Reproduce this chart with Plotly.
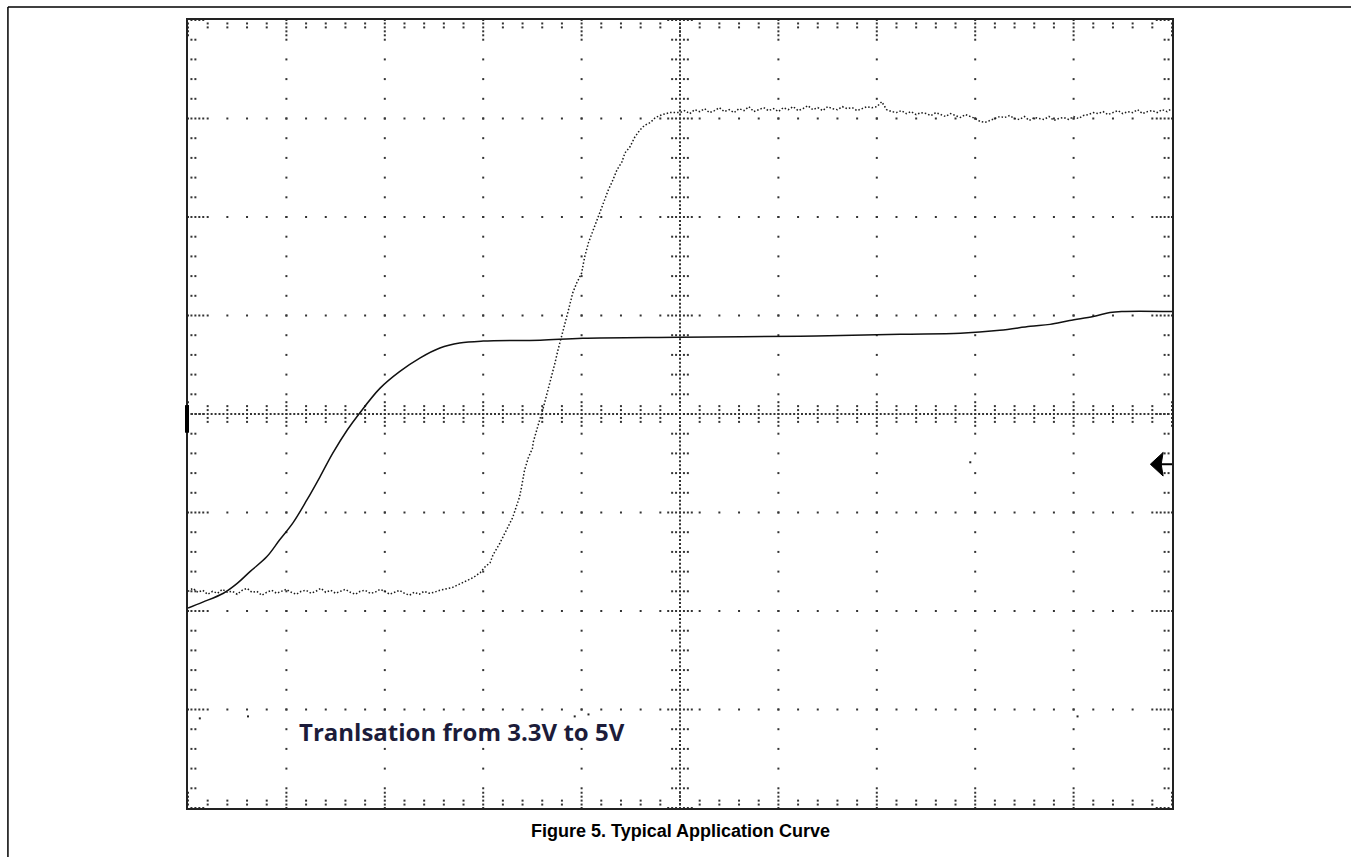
import plotly.graph_objects as go

# ---------------- data (units: screen divisions, x: -5..5, y: -4..4) ----------------
ch1_x = [-5.00, -4.85, -4.64, -4.50, -4.37, -4.20, -4.07, -3.93, -3.79, -3.66, -3.53,
         -3.38, -3.27, -3.05, -2.85, -2.64, -2.44, -2.24, -2.00, -1.42, -0.99, 0.00,
         1.22, 2.24, 2.85, 3.25, 3.56, 3.76, 3.96, 4.20, 4.37, 4.49, 5.00]
ch1_y = [-1.97, -1.91, -1.82, -1.72, -1.60, -1.45, -1.28, -1.10, -0.87, -0.64, -0.40,
         -0.16, -0.01, 0.26, 0.43, 0.57, 0.67, 0.72, 0.74, 0.75, 0.77, 0.78,
         0.79, 0.81, 0.82, 0.85, 0.89, 0.91, 0.95, 0.99, 1.03, 1.04, 1.04]

ch2_low_x = [-5.00, -4.95, -4.90, -4.85, -4.80, -4.75, -4.70, -4.65, -4.60, -4.55,
             -4.50, -4.45, -4.40, -4.35, -4.30, -4.25, -4.20, -4.15, -4.10, -4.05,
             -4.00, -3.95, -3.90, -3.85, -3.80, -3.75, -3.70, -3.65, -3.60, -3.55,
             -3.50, -3.45, -3.40, -3.35, -3.30, -3.25, -3.20, -3.15, -3.10, -3.05,
             -3.00, -2.95, -2.90, -2.85, -2.80, -2.75, -2.70, -2.65, -2.60, -2.55,
             -2.50]
ch2_low_y = [-1.80, -1.77, -1.81, -1.79, -1.83, -1.80, -1.82, -1.78, -1.81, -1.80,
             -1.83, -1.79, -1.77, -1.81, -1.80, -1.84, -1.81, -1.79, -1.82, -1.80,
             -1.78, -1.81, -1.83, -1.80, -1.79, -1.82, -1.80, -1.77, -1.81, -1.79,
             -1.82, -1.80, -1.78, -1.81, -1.83, -1.80, -1.79, -1.82, -1.81, -1.78,
             -1.80, -1.83, -1.81, -1.79, -1.82, -1.84, -1.81, -1.83, -1.80, -1.82,
             -1.81]

ch2_edge_x = [-2.44, -2.31, -2.21, -2.10, -2.03, -1.98, -1.93, -1.90, -1.83, -1.78,
              -1.75, -1.70, -1.68, -1.63, -1.61, -1.58, -1.54, -1.50, -1.49, -1.45,
              -1.42, -1.39, -1.32, -1.27, -1.24, -1.17, -1.14, -1.09, -1.05, -1.00,
              -0.97, -0.93, -0.88, -0.84, -0.81, -0.76, -0.73, -0.68, -0.64, -0.59,
              -0.56, -0.51, -0.46, -0.41, -0.36, -0.30, -0.25, -0.18, -0.10, 0.00]
ch2_edge_y = [-1.79, -1.76, -1.71, -1.66, -1.61, -1.55, -1.51, -1.43, -1.31, -1.21,
              -1.15, -1.05, -0.99, -0.84, -0.74, -0.57, -0.44, -0.35, -0.28, -0.13,
              -0.04, 0.06, 0.32, 0.52, 0.65, 0.90, 1.03, 1.23, 1.33, 1.43,
              1.59, 1.74, 1.87, 1.99, 2.07, 2.19, 2.27, 2.38, 2.48, 2.56,
              2.65, 2.71, 2.81, 2.88, 2.93, 2.96, 3.01, 3.04, 3.06, 3.06]

ch2_high_x = [0.05, 0.10, 0.15, 0.20, 0.25, 0.30, 0.35, 0.40, 0.45, 0.50,
              0.55, 0.60, 0.65, 0.70, 0.75, 0.80, 0.85, 0.90, 0.95, 1.00,
              1.05, 1.10, 1.15, 1.20, 1.25, 1.30, 1.35, 1.40, 1.45, 1.50,
              1.55, 1.60, 1.65, 1.70, 1.75, 1.80, 1.85, 1.90, 1.95, 2.00,
              2.05, 2.10, 2.15, 2.20, 2.25, 2.30, 2.35, 2.40, 2.45, 2.50,
              2.55, 2.60, 2.65, 2.70, 2.75, 2.80, 2.85, 2.90, 2.95, 3.00,
              3.05, 3.10, 3.15, 3.20, 3.25, 3.30, 3.35, 3.40, 3.45, 3.50,
              3.55, 3.60, 3.65, 3.70, 3.75, 3.80, 3.85, 3.90, 3.95, 4.00,
              4.05, 4.10, 4.15, 4.20, 4.25, 4.30, 4.35, 4.40, 4.45, 4.50,
              4.55, 4.60, 4.65, 4.70, 4.75, 4.80, 4.85, 4.90, 4.95, 5.00]
ch2_high_y = [3.08, 3.05, 3.09, 3.07, 3.10, 3.06, 3.08, 3.11, 3.07, 3.09,
              3.06, 3.10, 3.08, 3.12, 3.07, 3.09, 3.11, 3.08, 3.10, 3.07,
              3.11, 3.09, 3.12, 3.08, 3.10, 3.13, 3.09, 3.11, 3.08, 3.12,
              3.10, 3.09, 3.12, 3.10, 3.11, 3.08, 3.10, 3.12, 3.11, 3.12,
              3.17, 3.09, 3.07, 3.06, 3.08, 3.05, 3.07, 3.04, 3.06, 3.05,
              3.03, 3.06, 3.04, 3.02, 3.05, 3.03, 3.01, 3.04, 3.02, 3.00,
              2.97, 2.96, 2.98, 3.00, 3.02, 3.01, 3.03, 3.00, 2.99, 3.02,
              2.98, 3.01, 3.00, 2.99, 3.02, 2.98, 3.00, 3.01, 2.99, 3.02,
              3.00, 3.03, 3.04, 3.06, 3.05, 3.07, 3.04, 3.06, 3.08, 3.05,
              3.07, 3.06, 3.09, 3.05, 3.07, 3.08, 3.06, 3.09, 3.07, 3.10]

stray_x = [2.95, 4.04, -4.88, -4.39, -1.07, -0.93]
stray_y = [-0.49, -3.07, -3.09, -3.07, -3.07, -3.05]

trigger_level = -0.51          # right-edge arrow marker
ground_marker = [0.09, -0.19]  # left-edge channel bar
note_text = "Tranlsation from 3.3V to 5V"
caption_text = "Figure 5. Typical Application Curve"

# ---------------- graticule (screen decoration) ----------------
def r(v):
    return round(v, 4)

gx, gy = [], []
for i in range(-4, 5):
    if i == 0:
        continue
    for k in range(41):
        gx.append(i); gy.append(r(-4 + 0.2 * k))
for j in range(-3, 4):
    if j == 0:
        continue
    for k in range(51):
        gx.append(r(-5 + 0.2 * k)); gy.append(j)
for k in range(201):
    gx.append(0); gy.append(r(-4 + 0.04 * k))
for k in range(251):
    gx.append(r(-5 + 0.04 * k)); gy.append(0)
for k in range(41):
    yv = r(-4 + 0.2 * k)
    offs = [0.04, 0.08, 0.12] if abs(yv - round(yv)) < 1e-6 else [0.04, 0.08]
    for o in offs:
        gx += [o, -o]; gy += [yv, yv]
for k in range(51):
    xv = r(-5 + 0.2 * k)
    offs = [0.04, 0.08, 0.12] if abs(xv - round(xv)) < 1e-6 else [0.04, 0.08]
    for o in offs:
        gx += [xv, xv]; gy += [o, -o]
for k in range(41):
    yv = r(-4 + 0.2 * k)
    offs = [0.035, 0.075, 0.115, 0.155] if abs(yv - round(yv)) < 1e-6 else [0.035, 0.075]
    for o in offs:
        gx += [r(-5 + o), r(5 - o)]; gy += [yv, yv]
for k in range(51):
    xv = r(-5 + 0.2 * k)
    offs = [0.035, 0.075, 0.115, 0.155] if abs(xv - round(xv)) < 1e-6 else [0.035, 0.075]
    for o in offs:
        gx += [xv, xv]; gy += [r(4 - o), r(-4 + o)]

fig = go.Figure()
fig.add_trace(go.Scatter(x=gx, y=gy, mode="markers", hoverinfo="skip",
                         marker=dict(symbol="square", size=2, color="#333",
                                     line=dict(width=0))))
fig.add_trace(go.Scatter(x=stray_x, y=stray_y, mode="markers", hoverinfo="skip",
                         marker=dict(symbol="square", size=2, color="#222",
                                     line=dict(width=0))))
fig.add_trace(go.Scatter(x=ch2_low_x + ch2_edge_x + ch2_high_x,
                         y=ch2_low_y + ch2_edge_y + ch2_high_y,
                         mode="lines", hoverinfo="skip",
                         line=dict(color="#1a1a1a", width=1.5, dash="1.5px,2px")))
fig.add_trace(go.Scatter(x=ch1_x, y=ch1_y, mode="lines", hoverinfo="skip",
                         line=dict(color="#111", width=1.5, shape="spline", smoothing=1.0)))

shapes = [
    dict(type="line", xref="paper", yref="paper", x0=-0.183, x1=1.2, y0=1.0165, y1=1.0165,
         line=dict(color="black", width=1.5)),
    dict(type="line", xref="paper", yref="paper", x0=-0.183, x1=-0.183, y0=1.0165, y1=-0.07,
         line=dict(color="black", width=1.5)),
    dict(type="line", xref="paper", yref="y", x0=-0.001, x1=-0.001,
         y0=ground_marker[0], y1=ground_marker[1], line=dict(color="black", width=4)),
    dict(type="path", xref="x", yref="y",
         path=f"M 4.78 {trigger_level} L 4.91 {trigger_level + 0.12} L 4.89 {trigger_level} "
              f"L 4.91 {trigger_level - 0.12} Z",
         fillcolor="black", line=dict(color="black", width=1)),
    dict(type="line", xref="x", yref="y", x0=4.88, x1=5.0, y0=trigger_level, y1=trigger_level,
         line=dict(color="black", width=2)),
]

annotations = [
    dict(text=note_text, x=-3.89, y=-3.22, xref="x", yref="y",
         xanchor="left", yanchor="middle", showarrow=False,
         font=dict(family="Open Sans", size=24, color="#1c1c3a", weight="bold")),
    dict(text=caption_text, x=0.5, y=-0.029, xref="paper", yref="paper",
         xanchor="center", yanchor="middle", showarrow=False,
         font=dict(family="Liberation Sans, Arial", size=18, color="black", weight="bold")),
]

fig.update_layout(
    width=1351, height=857,
    margin=dict(l=188, r=179, t=20, b=49),
    paper_bgcolor="white", plot_bgcolor="white",
    showlegend=False,
    xaxis=dict(range=[-5, 5], showgrid=False, zeroline=False, showticklabels=False,
               ticks="", showline=True, mirror=True, linecolor="#222", linewidth=2),
    yaxis=dict(range=[-4, 4], showgrid=False, zeroline=False, showticklabels=False,
               ticks="", showline=True, mirror=True, linecolor="#222", linewidth=2),
    shapes=shapes, annotations=annotations,
)

fig.write_html("out.html", config={"displayModeBar": False},
               post_script="document.body.style.margin='0';document.body.style.overflow='hidden';")
